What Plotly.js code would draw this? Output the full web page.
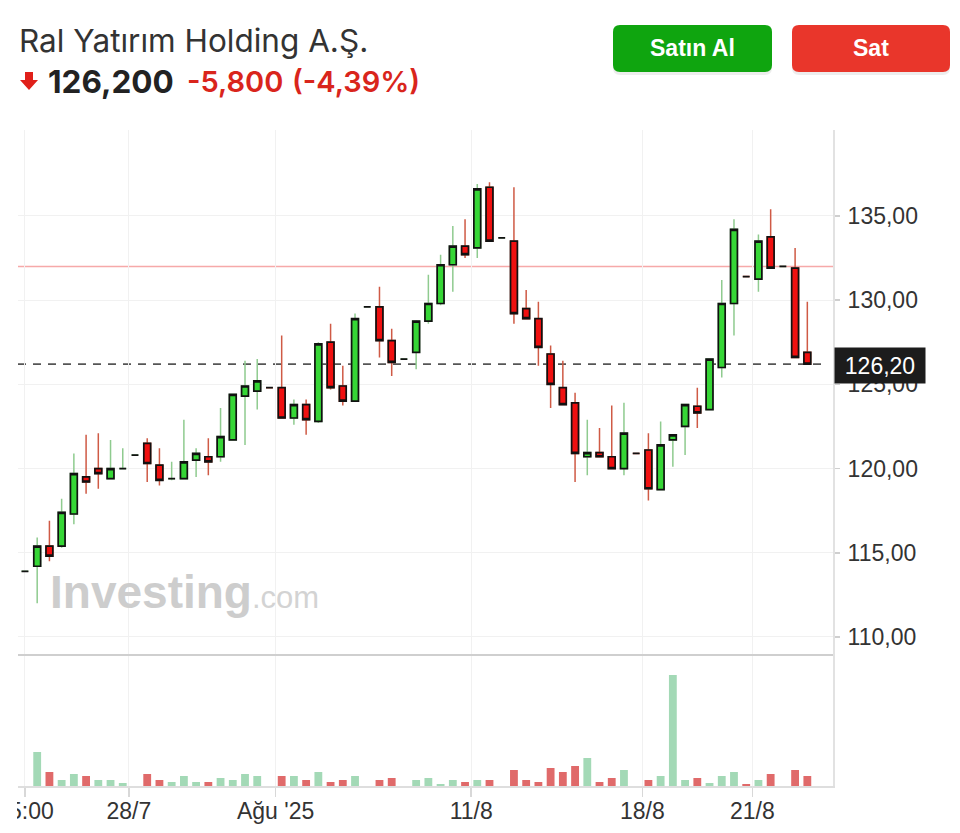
<!DOCTYPE html>
<html><head><meta charset="utf-8">
<script src="https://cdn.plot.ly/plotly-3.0.1.min.js"></script>
<style>html,body{margin:0;padding:0;background:#fff;} #chart{width:960px;height:833px;}</style>
</head><body><div id="chart"></div>
<script>
// ---- data ----
const openP  = [113.9,114.2,115.4,115.4,117.3,119.5,120.0,119.4,120.0,120.8,121.5,120.2,119.4,119.4,120.5,120.7,120.7,121.7,124.3,124.6,124.8,124.8,123.0,123.8,122.8,127.5,124.9,124.0,129.6,129.6,127.6,126.5,126.9,128.75,129.8,132.1,133.2,133.1,136.7,133.7,133.5,129.5,128.9,126.8,124.8,123.9,120.7,120.95,120.7,120.0,120.9,121.1,118.75,121.7,122.5,123.7,123.5,126.0,129.8,131.4,131.25,133.75,132.0,131.9,126.9];
const highP  = [113.9,115.9,116.9,118.2,120.9,122.0,122.1,121.7,121.2,120.8,121.8,121.2,120.4,122.9,121.2,121.8,123.6,124.4,126.4,126.5,124.8,127.9,124.1,124.1,127.5,128.6,126.1,129.2,129.6,130.8,128.3,126.5,128.8,131.5,132.7,134.4,134.8,136.9,137.0,133.7,136.7,130.6,129.9,127.3,126.4,124.5,122.9,122.4,123.75,123.9,120.9,122.1,122.8,122.0,123.8,124.8,126.5,131.2,134.8,131.4,133.9,135.4,132.0,133.1,129.9];
const lowP   = [113.9,112.0,114.5,115.3,116.7,118.5,118.8,119.4,120.0,120.8,119.2,119.0,119.3,119.4,119.5,119.6,120.4,121.7,121.4,123.5,124.8,123.0,122.6,122.0,122.7,124.7,123.75,124.0,129.6,126.6,125.5,126.5,125.9,128.6,129.7,130.5,132.5,132.5,133.5,133.7,128.6,128.9,126.1,123.6,123.8,119.2,119.6,120.7,120.0,119.6,120.9,118.1,118.75,120.1,120.8,122.4,123.5,125.4,127.9,131.4,130.5,131.9,132.0,126.6,126.2];
const closeP = [113.9,115.4,114.8,117.4,119.7,119.2,119.7,120.0,120.0,120.8,120.3,119.3,119.4,120.4,120.9,120.4,121.9,124.4,124.9,125.2,124.8,123.0,123.8,122.9,127.4,124.8,124.0,128.9,129.6,127.6,126.3,126.5,128.75,129.8,132.1,133.2,132.7,136.6,133.5,133.7,129.2,128.9,127.2,125.0,123.8,120.9,120.95,120.7,120.0,122.1,120.9,118.8,121.4,122.0,123.8,123.3,126.5,129.8,134.2,131.4,133.5,131.9,132.0,126.6,126.2];
const volume = [0,34,14,6,12,10,6,6,3,0,12,6,4,10,4,4,8,6,12,10,0,10,10,6,14,4,6,10,0,6,8,0,6,8,2,6,4,6,6,0,16,6,4,18,14,20,28,4,8,16,0,6,10,111,6,8,3,10,14,2,6,12,0,16,10];
const tickPos    = [0, 8.5, 20.5, 36.5, 50.5, 59.5];
const tickLabels = ['15:00', '28/7', "Ağu '25", '11/8', '18/8', '21/8'];
const priceTicks = [110, 115, 120, 125, 130, 135];
const lastPrice = 126.2;
const prevClose = 132.0;
const titleText = 'Ral Yatırım Holding A.Ş.';
const priceText = '126,200';
const changeText = '-5,800';
const pctText = '(-4,39%)';

// ---- derived ----
const idx = openP.map((_, i) => i);
const bodyHigh = openP.map((o, i) => Math.max(o, closeP[i]));
const bodyLow  = openP.map((o, i) => Math.min(o, closeP[i]));
const volColor = closeP.map((c, i) => (i === 0 || c >= closeP[i - 1]) ? '#a3d9b6' : '#e06a6a');

// ---- geometry helpers (page px -> paper) ----
const W = 960, H = 833, ML = 18, MR = 127, MT = 130, MB = 47;
const PW = W - ML - MR, PH = H - MT - MB;
const px = v => (v - ML) / PW;
const py = v => (H - MB - v) / PH;
const volTop = py(655);

function roundRect(x0, y0, x1, y1, r) {
  const p = (x, y) => px(x) + ',' + py(y);
  return 'M' + p(x0 + r, y0) + ' L' + p(x1 - r, y0) + ' Q' + p(x1, y0) + ' ' + p(x1, y0 + r) +
    ' L' + p(x1, y1 - r) + ' Q' + p(x1, y1) + ' ' + p(x1 - r, y1) +
    ' L' + p(x0 + r, y1) + ' Q' + p(x0, y1) + ' ' + p(x0, y1 - r) +
    ' L' + p(x0, y0 + r) + ' Q' + p(x0, y0) + ' ' + p(x0 + r, y0) + ' Z';
}
function poly(pts) {
  return 'M' + pts.map(q => px(q[0]) + ',' + py(q[1])).join(' L') + ' Z';
}

const wicks = {
  type: 'candlestick', x: idx, open: openP, high: highP, low: lowP, close: closeP,
  xaxis: 'x', yaxis: 'y', showlegend: false, hoverinfo: 'skip', whiskerwidth: 0,
  increasing: {line: {color: '#8fcb8f', width: 1.5}, fillcolor: '#36d636'},
  decreasing: {line: {color: '#cf5a45', width: 1.5}, fillcolor: '#f01010'}
};
const bodies = {
  type: 'candlestick', x: idx, open: openP, high: bodyHigh, low: bodyLow, close: closeP,
  xaxis: 'x', yaxis: 'y', showlegend: false, hoverinfo: 'skip', whiskerwidth: 0,
  increasing: {line: {color: '#111', width: 1.7}, fillcolor: '#36d636'},
  decreasing: {line: {color: '#111', width: 1.7}, fillcolor: '#f01010'}
};
const vol = {
  type: 'bar', x: idx, y: volume, xaxis: 'x', yaxis: 'y2', showlegend: false,
  marker: {color: volColor, line: {width: 0}}, width: 0.64, hoverinfo: 'skip'
};

const axisFont = {family: 'Liberation Sans, Arial, sans-serif', size: 23, color: '#333'};
const headFont = 'Inter, Liberation Sans, Arial, sans-serif';

const layout = {
  width: W, height: H,
  margin: {l: ML, r: MR, t: MT, b: MB, pad: 0},
  paper_bgcolor: '#fff', plot_bgcolor: '#fff',
  separators: ',.',
  showlegend: false,
  hovermode: false,
  boxgap: 0.2,
  xaxis: {
    domain: [0, 1], anchor: 'y2', range: [-0.57, 66.1],
    rangeslider: {visible: false},
    tickmode: 'array', tickvals: tickPos, ticktext: tickLabels,
    ticklabeloverflow: 'allow',
    showgrid: true, gridcolor: '#f1f1f1', gridwidth: 1,
    showline: true, linecolor: '#dedede', linewidth: 2,
    ticks: 'outside', ticklen: 9, tickcolor: '#d8d8d8', tickwidth: 1.5,
    ticklabelstandoff: -6,
    tickfont: axisFont, zeroline: false, fixedrange: true
  },
  yaxis: {
    domain: [volTop, 1], anchor: 'x', side: 'right', range: [108.93, 140.1],
    tickmode: 'array', tickvals: priceTicks, tickformat: '.2f',
    showgrid: true, gridcolor: '#f1f1f1', gridwidth: 1,
    showline: true, linecolor: '#e2e2e2', linewidth: 2,
    ticks: 'outside', ticklen: 5, tickcolor: '#cfcfcf', tickwidth: 1.5,
    ticklabelstandoff: 3,
    tickfont: axisFont, zeroline: false, fixedrange: true
  },
  yaxis2: {
    domain: [0, volTop], anchor: 'x', side: 'right', range: [0, 131],
    showticklabels: false, showgrid: false, ticks: '',
    showline: true, linecolor: '#e2e2e2', linewidth: 2, zeroline: false, fixedrange: true
  },
  shapes: [
    {type: 'line', xref: 'paper', yref: 'y', x0: 0, x1: 1, y0: prevClose, y1: prevClose,
     line: {color: '#f6a9a9', width: 1.5}, layer: 'below'},
    {type: 'line', xref: 'paper', yref: 'y', x0: 0, x1: px(826), y0: lastPrice, y1: lastPrice,
     line: {color: '#555', width: 1.6, dash: '8px,7px'}, layer: 'below'},
    {type: 'line', xref: 'paper', yref: 'paper', x0: 0, x1: 1, y0: volTop, y1: volTop,
     line: {color: '#cfcfcf', width: 2}},
    // the chart container clips the first tick label at its left edge
    {type: 'rect', xref: 'paper', yref: 'paper', x0: px(-4), x1: px(17), y0: py(830), y1: py(790),
     fillcolor: '#fff', line: {width: 0}, layer: 'above'},
    // buttons (with soft shadow)
    {type: 'path', path: roundRect(613, 27, 772, 75, 7), xref: 'paper', yref: 'paper',
     fillcolor: 'rgba(0,0,0,0.07)', line: {width: 0}},
    {type: 'path', path: roundRect(613, 25, 772, 72, 7), xref: 'paper', yref: 'paper',
     fillcolor: '#0fa50f', line: {width: 0}},
    {type: 'path', path: roundRect(792, 27, 950, 75, 7), xref: 'paper', yref: 'paper',
     fillcolor: 'rgba(0,0,0,0.07)', line: {width: 0}},
    {type: 'path', path: roundRect(792, 25, 950, 72, 7), xref: 'paper', yref: 'paper',
     fillcolor: '#e9362b', line: {width: 0}},
    // down arrow
    {type: 'path', xref: 'paper', yref: 'paper',
     path: poly([[25, 72], [33, 72], [33, 80], [38, 80], [29, 90], [20, 80], [25, 80]]),
     fillcolor: '#e0201a', line: {width: 0}}
  ],
  annotations: [
    {xref: 'paper', yref: 'paper', x: px(17), y: py(41), xanchor: 'left', yanchor: 'middle',
     text: titleText, showarrow: false, font: {family: headFont, size: 31.5, color: '#333'}},
    {xref: 'paper', yref: 'paper', x: px(46), y: py(81), xanchor: 'left', yanchor: 'middle',
     text: '<b>' + priceText + '</b>', showarrow: false, font: {family: headFont, size: 31.5, color: '#222'}},
    {xref: 'paper', yref: 'paper', x: px(185), y: py(81), xanchor: 'left', yanchor: 'middle',
     text: changeText, showarrow: false, font: {family: headFont, size: 29, color: '#d9251c', weight: 600}},
    {xref: 'paper', yref: 'paper', x: px(290), y: py(81), xanchor: 'left', yanchor: 'middle',
     text: pctText, showarrow: false, font: {family: headFont, size: 29, color: '#d9251c', weight: 600}},
    {xref: 'paper', yref: 'paper', x: px(692.5), y: py(48.5), xanchor: 'center', yanchor: 'middle',
     text: '<b>Satın Al</b>', showarrow: false, font: {family: 'Liberation Sans, Arial, sans-serif', size: 23, color: '#fff'}},
    {xref: 'paper', yref: 'paper', x: px(871), y: py(48.5), xanchor: 'center', yanchor: 'middle',
     text: '<b>Sat</b>', showarrow: false, font: {family: 'Liberation Sans, Arial, sans-serif', size: 23, color: '#fff'}},
    {xref: 'paper', yref: 'paper', x: px(48), y: py(592), xanchor: 'left', yanchor: 'middle',
     text: '<b>Investing</b>', showarrow: false, font: {family: 'Liberation Sans, Arial, sans-serif', size: 46, color: '#cdcdcd'}},
    {xref: 'paper', yref: 'paper', x: px(250), y: py(597), xanchor: 'left', yanchor: 'middle',
     text: '.com', showarrow: false, font: {family: 'Liberation Sans, Arial, sans-serif', size: 31, color: '#d3d3d3'}},
    {xref: 'paper', yref: 'y', x: 1, y: lastPrice, xanchor: 'left', yanchor: 'middle', xshift: 1, yshift: -1,
     text: lastPrice.toFixed(2).replace('.', ','), showarrow: false,
     bgcolor: '#1c1c1c', width: 88, height: 33, borderpad: 1, align: 'center',
     font: {family: 'Liberation Sans, Arial, sans-serif', size: 23, color: '#fff'}}
  ]
};

Plotly.newPlot('chart', [wicks, bodies, vol], layout, {displayModeBar: false, staticPlot: true});
</script>
</body></html>
